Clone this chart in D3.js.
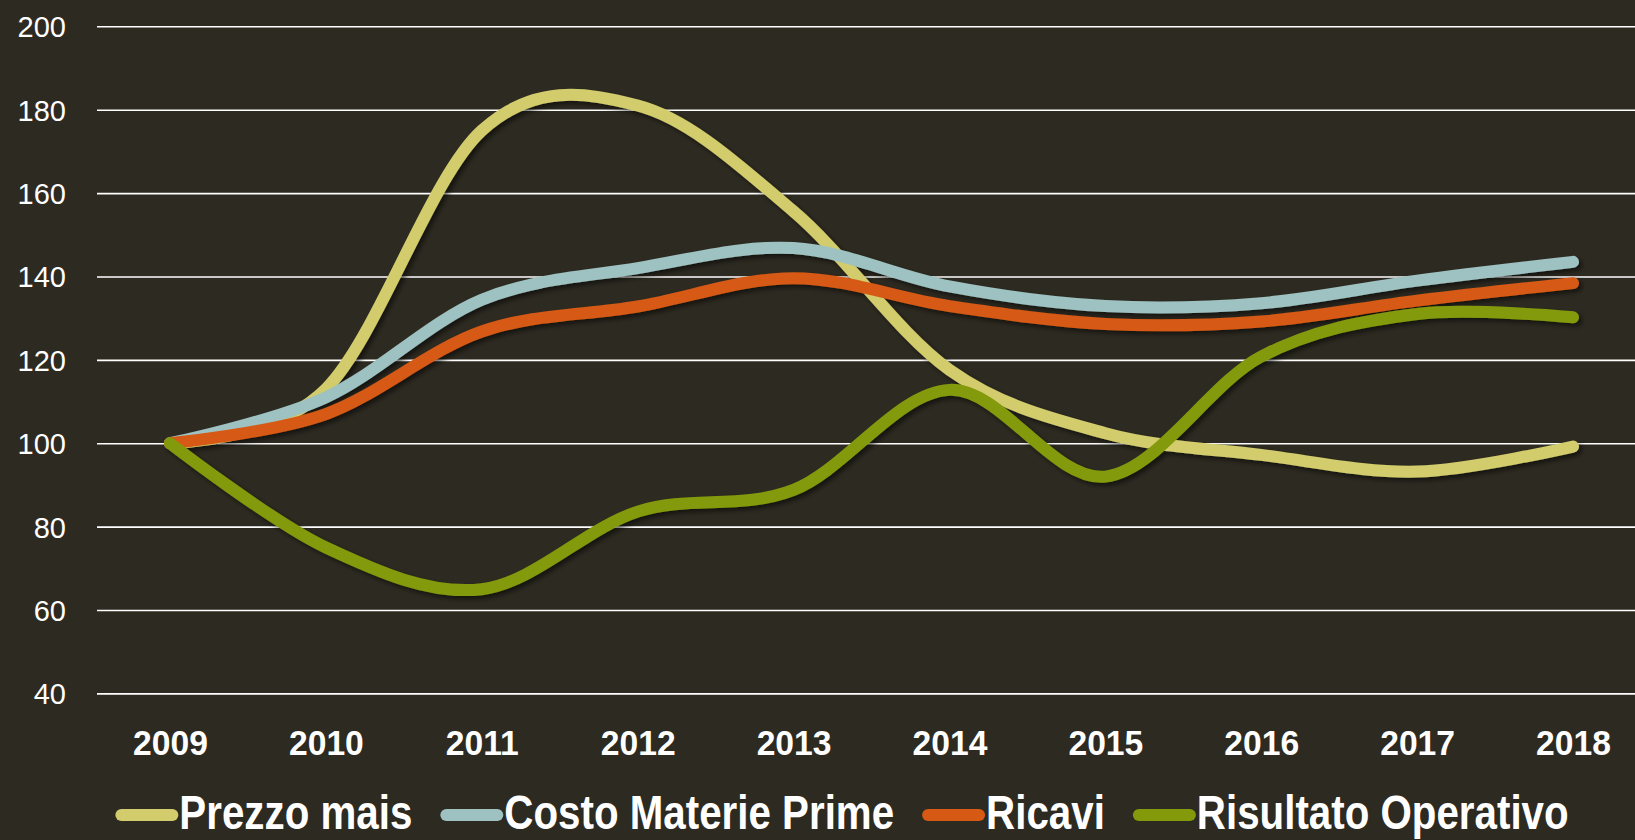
<!DOCTYPE html>
<html>
<head>
<meta charset="utf-8">
<script src="https://cdn.jsdelivr.net/npm/d3@7/dist/d3.min.js"></script>
<style>
  html, body { margin: 0; padding: 0; background: #2d2a21; overflow: hidden; }
  svg { display: block; }
</style>
</head>
<body>
<svg id="chart" width="1635" height="840"></svg>
<script>
// ---- data ----
const years = ["2009","2010","2011","2012","2013","2014","2015","2016","2017","2018"];
const prezzoMais        = [100, 113, 175, 181, 155.6, 117.6, 102.4, 97.2, 93.2, 99.2];
const costoMateriePrime = [100, 111, 134.4, 142, 146.8, 137.6, 132.9, 133.6, 139, 143.5];
const ricavi            = [100, 107, 126.8, 132.8, 139.6, 132.9, 128.6, 129.2, 134.2, 138.4];
const risultatoOperativo= [100, 75, 65, 83.6, 88.8, 112.8, 92, 120.8, 131, 130.2];
const seriesNames = ["Prezzo mais", "Costo Materie Prime", "Ricavi", "Risultato Operativo"];
const seriesColors = ["#d2cc6c", "#9dc2c1", "#d65a14", "#849a0a"];
const yTicks = [40, 60, 80, 100, 120, 140, 160, 180, 200];

const seriesValues = [prezzoMais, costoMateriePrime, ricavi, risultatoOperativo];

// ---- font detection (narrow font if installed) ----
function fontAvailable(name) {
  const c = document.createElement("canvas").getContext("2d");
  const s = "mmmmmmmmmmlli0123456789WWW";
  c.font = "40px monospace";
  const a = c.measureText(s).width;
  c.font = `40px "${name}", monospace`;
  const b = c.measureText(s).width;
  return Math.abs(a - b) > 0.5;
}
const hasNarrow = fontAvailable("Liberation Sans Narrow");
const boldFamily = hasNarrow ? "'Liberation Sans Narrow', 'Arial Narrow', sans-serif" : "'Liberation Sans', Arial, sans-serif";

// ---- layout ----
const W = 1635, H = 840;
const plotLeft = 97, plotRight = 1640;
const svg = d3.select("#chart");
svg.append("rect").attr("width", W).attr("height", H).attr("fill", "#2d2a21");

const x = d3.scalePoint().domain(years).range([170, 1573]);
const y = d3.scaleLinear().domain([40, 200]).range([693.4, 26.3]);

const defs = svg.append("defs");
const f = defs.append("filter").attr("id", "shadow")
  .attr("x", "-5%").attr("y", "-20%").attr("width", "110%").attr("height", "140%");
f.append("feDropShadow").attr("dx", 3).attr("dy", 3).attr("stdDeviation", 2.5)
  .attr("flood-color", "#000").attr("flood-opacity", 0.55);

// y axis + gridlines
const yAxis = d3.axisLeft(y).tickValues(yTicks).tickSize(-(plotRight - plotLeft)).tickPadding(31);
const gy = svg.append("g").attr("transform", `translate(${plotLeft},0)`).call(yAxis);
gy.select(".domain").remove();
gy.selectAll(".tick line").attr("stroke", "#ffffff").attr("stroke-width", 1.6);
gy.selectAll(".tick text")
  .attr("fill", "#ffffff")
  .attr("font-family", "'Liberation Sans', Arial, sans-serif")
  .attr("font-size", 29)
  .attr("dy", "0.36em");

// x axis labels
const xAxis = d3.axisBottom(x).tickSize(0).tickPadding(0);
const gx = svg.append("g").attr("transform", `translate(0,755)`).call(xAxis);
gx.select(".domain").remove();
gx.selectAll(".tick text")
  .attr("fill", "#ffffff")
  .attr("font-family", boldFamily)
  .attr("font-weight", "bold")
  .attr("font-size", hasNarrow ? 38 : 36)
  .attr("y", 0).attr("dy", 0)
  .attr("transform", hasNarrow ? null : "scale(0.935,1)");

// lines
const line = d3.line()
  .x((d, i) => x(years[i]))
  .y(d => y(d))
  .curve(d3.curveCardinal.tension(0));

const gl = svg.append("g").attr("filter", "url(#shadow)");
seriesValues.forEach((vals, k) => {
  gl.append("path")
    .datum(vals)
    .attr("d", line)
    .attr("fill", "none")
    .attr("stroke", seriesColors[k])
    .attr("stroke-width", 12)
    .attr("stroke-linecap", "round")
    .attr("stroke-linejoin", "round");
});

// legend
const legendScale = hasNarrow ? 1 : 0.84;
const lg = svg.append("g");
const items = [];
seriesNames.forEach((name, k) => {
  const g = lg.append("g");
  g.append("line").attr("class", "sym")
    .attr("stroke", seriesColors[k]).attr("stroke-width", 12).attr("stroke-linecap", "round");
  const tg = g.append("g").attr("class", "tg");
  const t = tg.append("text").text(name)
    .attr("fill", "#ffffff")
    .attr("font-family", boldFamily)
    .attr("font-weight", "bold")
    .attr("font-size", 48)
    .attr("transform", `scale(${legendScale},1)`);
  const w = t.node().getComputedTextLength() * legendScale;
  items.push({ g, w });
});
const symW = 63, gapSymText = 1, gapItems = 28;
const total = items.reduce((s, it) => s + symW + gapSymText + it.w, 0) + gapItems * (items.length - 1);
let cx = 842 - total / 2;
items.forEach(it => {
  it.g.select(".sym").attr("x1", cx + 6).attr("x2", cx + symW - 6).attr("y1", 815).attr("y2", 815);
  it.g.select(".tg").attr("transform", `translate(${cx + symW + gapSymText},829)`);
  cx += symW + gapSymText + it.w + gapItems;
});
</script>
</body>
</html>
